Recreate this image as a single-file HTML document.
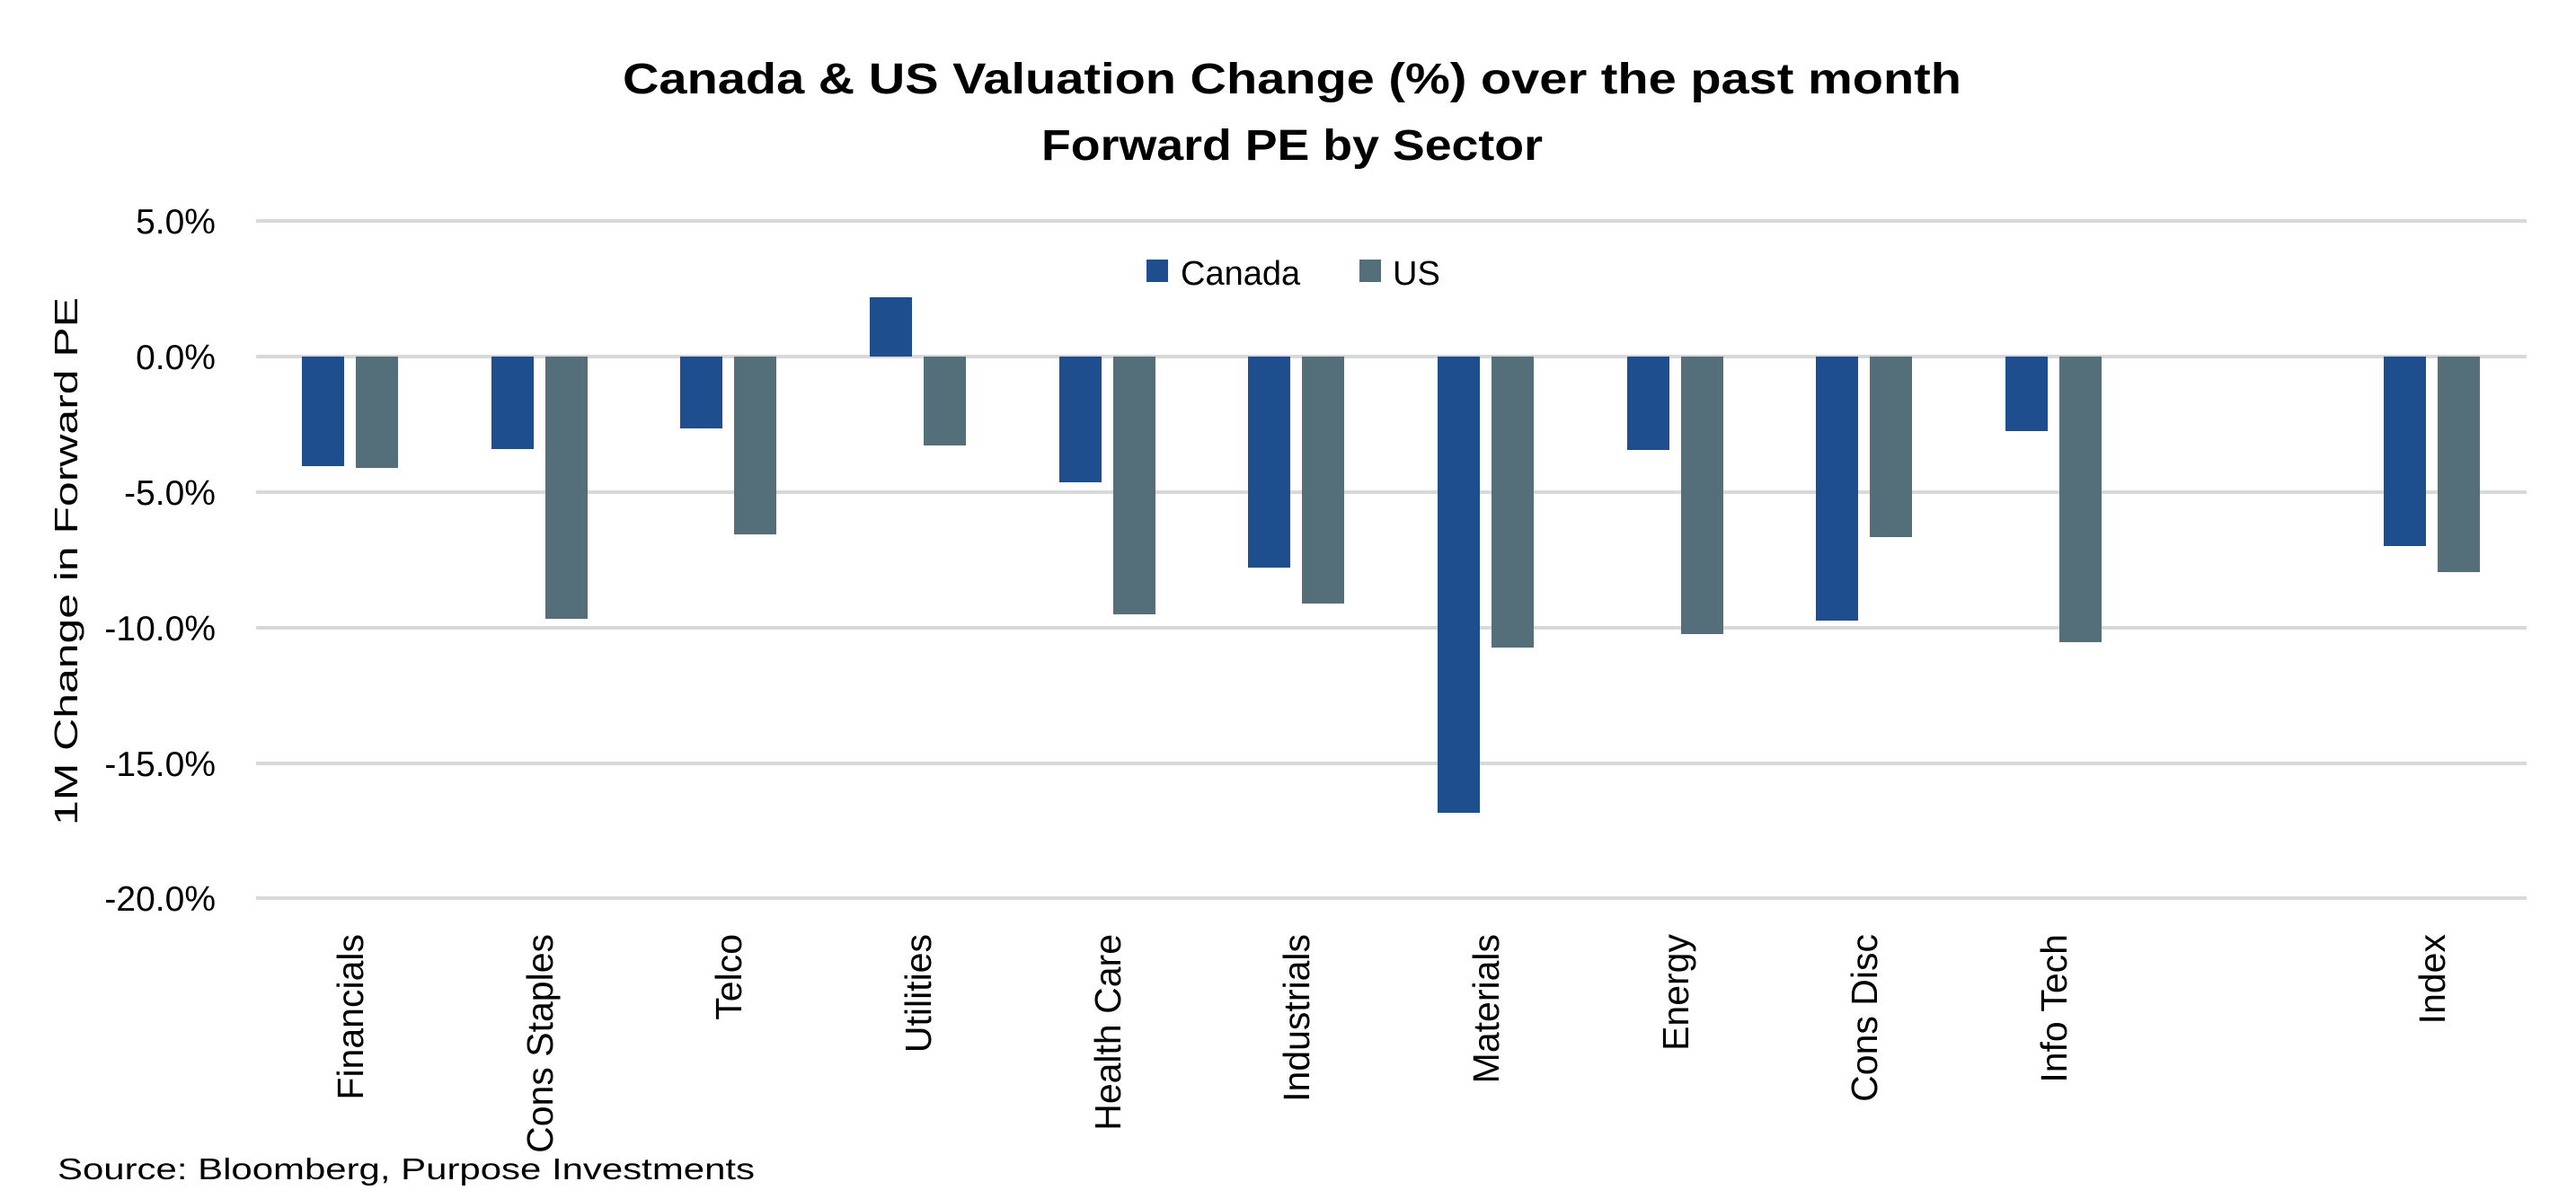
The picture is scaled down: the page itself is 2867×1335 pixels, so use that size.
<!DOCTYPE html>
<html><head><meta charset="utf-8"><style>html,body{margin:0;padding:0;background:#fff}svg{display:block}</style></head>
<body>
<svg width="2867" height="1335" viewBox="0 0 2867 1335" xmlns="http://www.w3.org/2000/svg" font-family="'Liberation Sans', sans-serif">
<g text-anchor="middle" font-weight="bold" fill="#000">
<text x="1438" y="104" font-size="48" textLength="1490" lengthAdjust="spacingAndGlyphs">Canada &amp; US Valuation Change (%) over the past month</text>
<text x="1438" y="178" font-size="48" textLength="558" lengthAdjust="spacingAndGlyphs">Forward PE by Sector</text>
</g>
<g stroke="#d9d9d9" stroke-width="4">
<line x1="285" x2="2812" y1="246" y2="246"/>
<line x1="285" x2="2812" y1="397" y2="397"/>
<line x1="285" x2="2812" y1="548" y2="548"/>
<line x1="285" x2="2812" y1="699" y2="699"/>
<line x1="285" x2="2812" y1="850" y2="850"/>
<line x1="285" x2="2812" y1="1000" y2="1000"/>
</g>
<g font-size="39" text-anchor="end" fill="#000">
<text x="240" y="260">5.0%</text>
<text x="240" y="411">0.0%</text>
<text x="240" y="562">-5.0%</text>
<text x="240" y="713">-10.0%</text>
<text x="240" y="864">-15.0%</text>
<text x="240" y="1014">-20.0%</text>
</g>
<text transform="translate(86,625) rotate(-90)" font-size="36" text-anchor="middle" textLength="588" lengthAdjust="spacingAndGlyphs">1M Change in Forward PE</text>
<rect x="1276" y="289" width="24" height="25" fill="#1f4e8f"/>
<text x="1314" y="317" font-size="38">Canada</text>
<rect x="1513" y="289" width="24" height="25" fill="#546e7a"/>
<text x="1550" y="317" font-size="38">US</text>
<g fill="#1f4e8f">
<rect x="336" y="397" width="47" height="122"/>
<rect x="547" y="397" width="47" height="103"/>
<rect x="757" y="397" width="47" height="80"/>
<rect x="968" y="331" width="47" height="66"/>
<rect x="1179" y="397" width="47" height="140"/>
<rect x="1389" y="397" width="47" height="235"/>
<rect x="1600" y="397" width="47" height="508"/>
<rect x="1811" y="397" width="47" height="104"/>
<rect x="2021" y="397" width="47" height="294"/>
<rect x="2232" y="397" width="47" height="83"/>
<rect x="2653" y="397" width="47" height="211"/>
</g>
<g fill="#546e7a">
<rect x="396" y="397" width="47" height="124"/>
<rect x="607" y="397" width="47" height="292"/>
<rect x="817" y="397" width="47" height="198"/>
<rect x="1028" y="397" width="47" height="99"/>
<rect x="1239" y="397" width="47" height="287"/>
<rect x="1449" y="397" width="47" height="275"/>
<rect x="1660" y="397" width="47" height="324"/>
<rect x="1871" y="397" width="47" height="309"/>
<rect x="2081" y="397" width="47" height="201"/>
<rect x="2292" y="397" width="47" height="318"/>
<rect x="2713" y="397" width="47" height="240"/>
</g>
<g font-size="41" text-anchor="end" fill="#000">
<text transform="translate(404,1040) rotate(-90)">Financials</text>
<text transform="translate(615,1040) rotate(-90)">Cons Staples</text>
<text transform="translate(825,1040) rotate(-90)">Telco</text>
<text transform="translate(1036,1040) rotate(-90)">Utilities</text>
<text transform="translate(1247,1040) rotate(-90)">Health Care</text>
<text transform="translate(1457,1040) rotate(-90)">Industrials</text>
<text transform="translate(1668,1040) rotate(-90)">Materials</text>
<text transform="translate(1879,1040) rotate(-90)">Energy</text>
<text transform="translate(2089,1040) rotate(-90)">Cons Disc</text>
<text transform="translate(2300,1040) rotate(-90)">Info Tech</text>
<text transform="translate(2721,1040) rotate(-90)">Index</text>
</g>
<text x="64" y="1313" font-size="33" textLength="776" lengthAdjust="spacingAndGlyphs">Source: Bloomberg, Purpose Investments</text>
</svg>
</body></html>
